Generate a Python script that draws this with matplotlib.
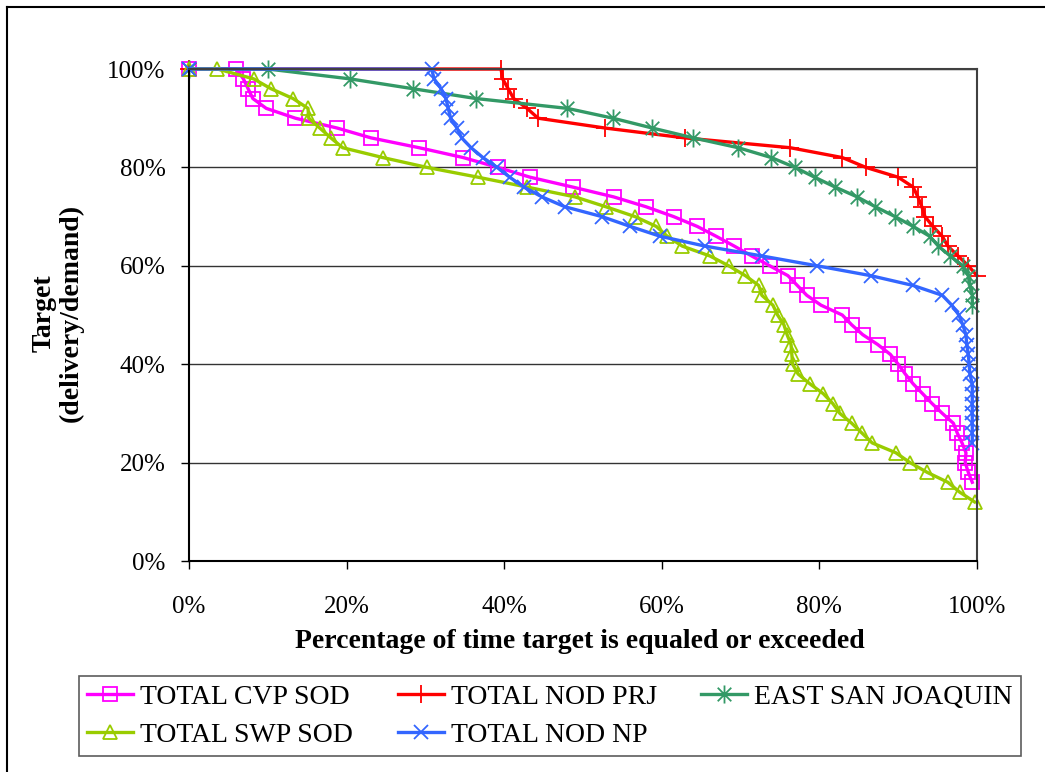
import matplotlib
matplotlib.use("Agg")
import matplotlib.pyplot as plt
from matplotlib.lines import Line2D
from matplotlib.path import Path
from matplotlib.ticker import FuncFormatter

plt.rcParams["font.family"] = ["Liberation Serif", "DejaVu Serif"]

# exceedance curves, x = % of time, y = target (% of demand)
cvp_x = [0, 6.0, 6.9, 7.5, 8.1, 9.8, 13.5, 18.8, 23.1, 29.2, 34.8, 39.2,
         43.3, 48.7, 53.9, 58.0, 61.5, 64.5, 66.9, 69.2, 71.4, 73.7,
         76.0, 77.2, 78.4, 80.2, 82.9, 84.1, 85.5, 87.4, 89.0, 90.0,
         90.9, 91.9, 93.1, 94.3, 95.6, 97.0, 97.5, 98.1, 98.6, 98.5,
         98.9, 99.4]
cvp_y = [100, 100, 98, 96, 94, 92, 90, 88, 86, 84, 82, 80,
         78, 76, 74, 72, 70, 68, 66, 64, 62, 60,
         58, 56, 54, 52, 50, 48, 46, 44, 42, 40,
         38, 36, 34, 32, 30, 28, 26, 24, 22, 20,
         18, 16]

swp_x = [0, 3.6, 8.2, 10.4, 13.2, 15.1, 15.2, 16.6, 18.0, 19.5, 24.6, 30.2,
         36.7, 42.9, 49.0, 52.9, 56.6, 59.3, 60.7, 62.6, 66.1, 68.5,
         70.6, 72.3, 72.7, 74.1, 74.7, 75.5, 75.9, 76.4, 76.5, 76.6,
         77.3, 78.8, 80.5, 81.7, 82.6, 84.1, 85.4, 86.7, 89.7, 91.5,
         93.7, 96.3, 97.8, 99.7]
swp_y = [100, 100, 98, 96, 94, 92, 90, 88, 86, 84, 82, 80,
         78, 76, 74, 72, 70, 68, 66, 64, 62, 60,
         58, 56, 54, 52, 50, 48, 46, 44, 42, 40,
         38, 36, 34, 32, 30, 28, 26, 24, 22, 20,
         18, 16, 14, 12]

prj_x = [0, 39.6, 39.8, 40.5, 41.2, 42.9, 44.3, 52.8, 62.9, 76.3, 82.9, 85.9,
         90.0, 91.9, 92.5, 93.0, 93.4, 94.4, 95.6, 96.3, 97.6, 98.9, 100]
prj_y = [100, 100, 98, 96, 94, 92, 90, 88, 86, 84, 82, 80,
         78, 76, 74, 72, 70, 68, 66, 64, 62, 60, 58]

esj_x = [0, 10.0, 20.4, 28.4, 36.4, 48.0, 53.8, 58.8, 64.0, 69.7, 73.9, 76.9,
         79.4, 82.0, 84.8, 87.1, 89.6, 91.9, 94.0, 95.1, 96.6, 98.2,
         98.9, 99.1, 99.4, 99.4]
esj_y = [100, 100, 98, 96, 94, 92, 90, 88, 86, 84, 82, 80,
         78, 76, 74, 72, 70, 68, 66, 64, 62, 60,
         58, 56, 54, 52]

np_x = [0, 30.8, 31.1, 32.0, 32.6, 32.9, 33.2, 34.0, 34.6, 35.8, 37.3, 39.1,
        40.7, 42.5, 44.8, 47.7, 52.4, 56.0, 59.8, 65.5, 72.7, 79.7,
        86.5, 91.9, 95.6, 96.8, 97.7, 98.2, 98.6, 98.7, 98.9, 99.0,
        99.1, 99.4, 99.4, 99.4, 99.4, 99.4, 99.4, 99.4]
np_y = [100, 100, 98, 96, 94, 92, 90, 88, 86, 84, 82, 80,
        78, 76, 74, 72, 70, 68, 66, 64, 62, 60,
        58, 56, 54, 52, 50, 48, 46, 44, 42, 40,
        38, 36, 34, 32, 30, 28, 26, 24]

ticks = [0, 20, 40, 60, 80, 100]

# Excel style asterisk: vertical bar plus an X
star = Path([(0, -1), (0, 1), (-0.75, -0.75), (0.75, 0.75), (-0.75, 0.75), (0.75, -0.75)],
            [Path.MOVETO, Path.LINETO, Path.MOVETO, Path.LINETO, Path.MOVETO, Path.LINETO])

W, H = 1045, 772
fig = plt.figure(figsize=(W / 100, H / 100), dpi=100)
ax = fig.add_axes([189 / W, 1 - 561 / H, (977 - 189) / W, (561 - 69) / H])

series = [
    (cvp_x, cvp_y, "TOTAL CVP SOD", "#FF00FF", "s", 9.5),
    (prj_x, prj_y, "TOTAL NOD PRJ", "#FF0000", "+", 13),
    (esj_x, esj_y, "EAST SAN JOAQUIN", "#339966", star, 13),
    (swp_x, swp_y, "TOTAL SWP SOD", "#99CC00", "^", 10),
    (np_x, np_y, "TOTAL NOD NP", "#3366FF", "x", 10),
]
handles = {}
for xs, ys, name, col, mk, ms in series:
    h, = ax.plot(xs, ys, color=col, lw=2.4, marker=mk, markersize=ms,
                 markerfacecolor="none", markeredgecolor=col, markeredgewidth=1.3,
                 clip_on=False, label=name)
    handles[name] = h

ax.set_xlim(0, 100)
ax.set_ylim(0, 100)
ax.set_xticks(ticks)
ax.set_yticks(ticks)
pct = FuncFormatter(lambda v, p: f"{v:.0f}%")
ax.xaxis.set_major_formatter(pct)
ax.yaxis.set_major_formatter(pct)
ax.tick_params(axis="x", direction="out", length=6, width=1, labelsize=18, pad=19)
ax.tick_params(axis="y", direction="out", length=6, width=1, labelsize=18, pad=11)
ax.grid(axis="y", color="#333333", lw=1)
ax.set_axisbelow(True)
for s in ["left", "bottom"]:
    ax.spines[s].set_color("black")
    ax.spines[s].set_linewidth(1.5)
for s in ["top", "right"]:
    ax.spines[s].set_color("#404040")
    ax.spines[s].set_linewidth(1.5)

fig.text(580 / W, 1 - 641 / H, "Percentage of time target is equaled or exceeded",
         ha="center", va="center", fontsize=20, fontweight="bold")
fig.text(58 / W, 1 - 313 / H, "Target\n(delivery/demand)", rotation=90,
         ha="center", va="center", multialignment="center",
         fontsize=20, fontweight="bold", linespacing=1.1)

order = ["TOTAL CVP SOD", "TOTAL SWP SOD", "TOTAL NOD PRJ", "TOTAL NOD NP", "EAST SAN JOAQUIN"]
leg = fig.legend([handles[n] for n in order], order, ncol=3, loc="lower left",
                 bbox_to_anchor=(79 / W, 1 - 756 / H), bbox_transform=fig.transFigure,
                 fontsize=20, frameon=True, fancybox=False, edgecolor="#333333",
                 handlelength=1.66, handletextpad=0.25, columnspacing=1.6,
                 borderpad=0.3, labelspacing=0.45, borderaxespad=0)
leg.get_frame().set_linewidth(1.2)

# outer chart border (left and top visible inside the image)
fig.add_artist(Line2D([7 / W, 7 / W], [0, 1 - 7 / H], transform=fig.transFigure, color="black", lw=1.5))
fig.add_artist(Line2D([7 / W, 1], [1 - 7 / H, 1 - 7 / H], transform=fig.transFigure, color="black", lw=1.5))

fig.savefig("out.png", dpi=100)
